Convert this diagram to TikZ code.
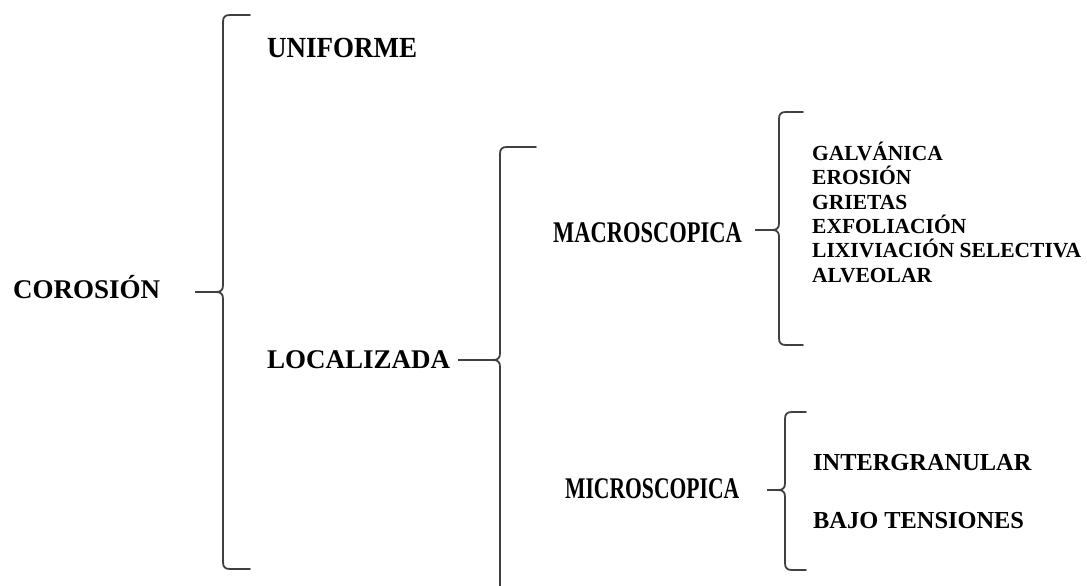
\documentclass[tikz,border=0pt]{standalone}
\usepackage{fontspec}
\setmainfont{Liberation Serif}
\tikzset{
  bracepath/.style={draw=black!75, line width=1.8pt, line cap=round, line join=round},
  conn/.style={draw=black!75, line width=1.8pt},
  lbl/.style={anchor=base west, inner sep=0pt},
  big/.style={lbl, font=\fontsize{27}{27}\selectfont\bfseries},
  mid/.style={lbl, font=\fontsize{30}{30}\selectfont\bfseries},
  sub/.style={lbl, font=\fontsize{24.4}{24.4}\selectfont\bfseries},
  item/.style={lbl, font=\fontsize{21.5}{21.5}\selectfont\bfseries},
}
% #1 x of vertical, #2 top y, #3 tip y, #4 bottom y, #5 arm end x
\newcommand{\mybrace}[5]{%
  \path[bracepath] (#5,#2) -- ({#1+7},#2) .. controls ({#1+2},#2) and (#1,{#2+2}) .. (#1,{#2+7})
    -- (#1,{#3-7}) .. controls (#1,{#3-2}) and ({#1-2},#3) .. ({#1-7},#3)
    .. controls ({#1-2},#3) and (#1,{#3+2}) .. (#1,{#3+7})
    -- (#1,{#4-7}) .. controls (#1,{#4-2}) and ({#1+2},#4) .. ({#1+7},#4) -- (#5,#4);}
\begin{document}
\begin{tikzpicture}[x=1pt,y=-1pt]
\useasboundingbox[fill=white] (0,0) rectangle (1087,586);
\begin{scope}
\clip (0,0) rectangle (1087,586);
% labels
\node[big] (corosion) at (13,298) {COROSIÓN};
\node[big] (uniforme) at (267,58) {\scalebox{1}[1.08]{UNIFORME}};
\node[big] (localizada) at (267,368) {LOCALIZADA};
\node[mid] (macro) at (553,242) {\scalebox{0.75}[1]{MACROSCOPICA}};
\node[mid] (micro) at (565,498) {\scalebox{0.72}[1]{MICROSCOPICA}};
\node[item] (galv) at (812,160.5) {GALVÁNICA};
\node[item] (eros) at (812,184.8) {EROSIÓN};
\node[item] (grie) at (812,209.1) {GRIETAS};
\node[item] (exfo) at (812,233.4) {EXFOLIACIÓN};
\node[item] (lixi) at (812,257.7) {LIXIVIACIÓN SELECTIVA};
\node[item] (alve) at (812,282) {ALVEOLAR};
\node[sub] (inter) at (813,470) {INTERGRANULAR};
\node[sub] (bajo) at (813,528) {BAJO TENSIONES};
% braces
\mybrace{223}{15}{292}{569}{250}
\coordinate (t1) at (216,292);
\mybrace{500}{147}{360}{593}{536}
\coordinate (t2) at (493,360);
\mybrace{779}{112}{230}{345}{803}
\coordinate (t3) at (772,230);
\mybrace{785}{412}{490}{570}{806}
\coordinate (t4) at (778,490);
% connectors
\coordinate (c1) at (195,292);
\coordinate (c2) at (458,360);
\coordinate (c3) at (755,230);
\coordinate (c4) at (767,490);
\draw[conn] (c1) -- (t1);
\draw[conn] (c2) -- (t2);
\draw[conn] (c3) -- (t3);
\draw[conn] (c4) -- (t4);
\end{scope}
\end{tikzpicture}
\end{document}
